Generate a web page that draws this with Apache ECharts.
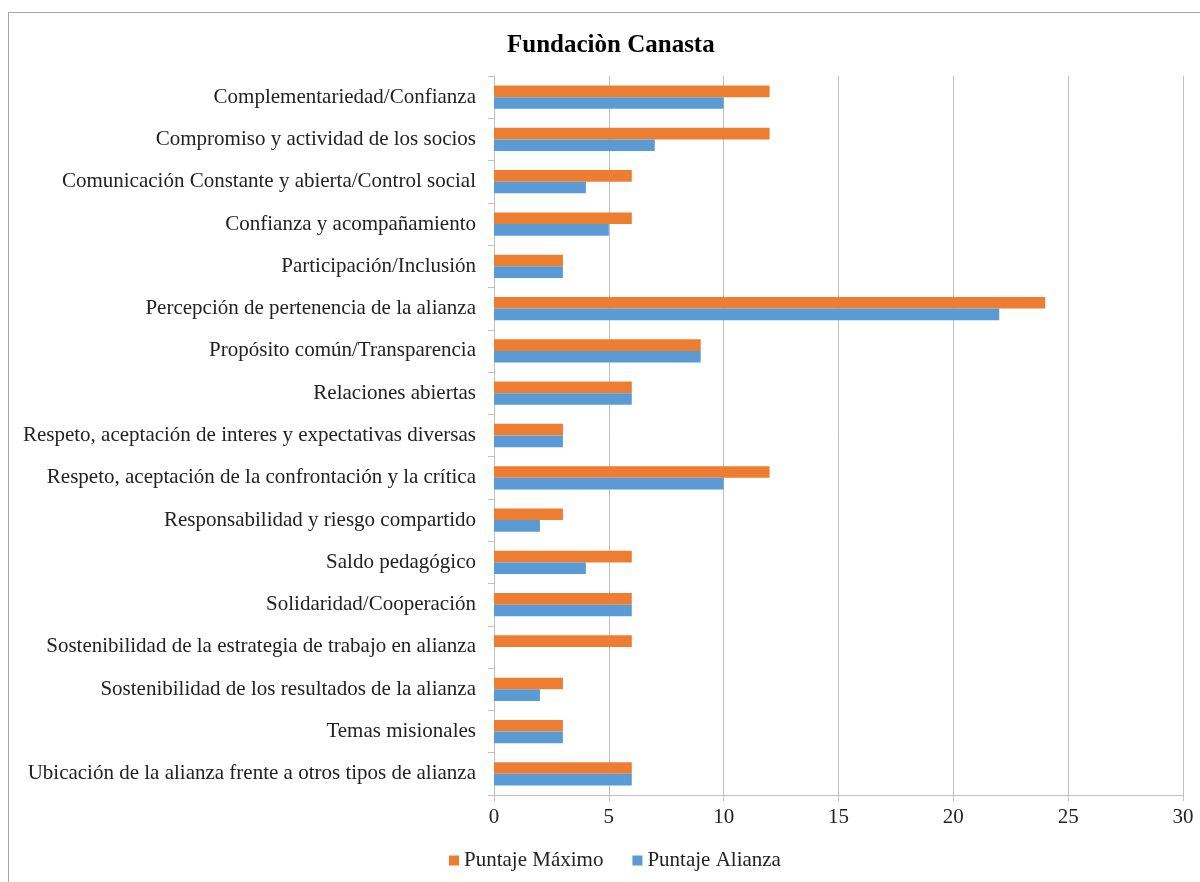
<!DOCTYPE html>
<html>
<head>
<meta charset="utf-8">
<script src="https://cdn.jsdelivr.net/npm/echarts@6/dist/echarts.min.js"></script>
<style>html,body{margin:0;padding:0;background:#fff}#c{width:1200px;height:882px}</style>
</head>
<body>
<div id="c"></div>
<script>
const categories = [
  "Complementariedad/Confianza",
  "Compromiso y actividad de los socios",
  "Comunicación Constante y abierta/Control social",
  "Confianza y acompañamiento",
  "Participación/Inclusión",
  "Percepción de pertenencia de la alianza",
  "Propósito común/Transparencia",
  "Relaciones abiertas",
  "Respeto, aceptación de interes y expectativas diversas",
  "Respeto, aceptación de la confrontación y la crítica",
  "Responsabilidad y riesgo compartido",
  "Saldo pedagógico",
  "Solidaridad/Cooperación",
  "Sostenibilidad de la estrategia de trabajo en alianza",
  "Sostenibilidad de los resultados de la alianza",
  "Temas misionales",
  "Ubicación de la alianza frente a otros tipos de alianza"
];
const puntajeMaximo = [12, 12, 6, 6, 3, 24, 9, 6, 3, 12, 3, 6, 6, 6, 3, 3, 6];
const puntajeAlianza = [10, 7, 4, 5, 3, 22, 9, 6, 3, 10, 2, 4, 6, 0, 2, 3, 6];
const xTicks = [0, 5, 10, 15, 20, 25, 30];

const FONT = '"Liberation Serif", "Times New Roman", serif';
const chart = echarts.init(document.getElementById('c'));
chart.setOption({
  backgroundColor: '#fff',
  animation: false,
  title: {
    text: 'Fundaciòn Canasta',
    left: 502,
    top: 28,
    textStyle: { fontFamily: FONT, fontWeight: 'bold', fontSize: 25, color: '#000' }
  },
  legend: {
    bottom: 6,
    left: 444,
    itemWidth: 10,
    itemHeight: 10,
    itemGap: 29,
    icon: 'rect',
    textStyle: { fontFamily: FONT, fontSize: 21, color: '#222' },
    data: ['Puntaje Máximo', 'Puntaje Alianza']
  },
  grid: { left: 494, right: 17, top: 76, bottom: 87 },
  xAxis: {
    type: 'value',
    min: xTicks[0],
    max: xTicks[xTicks.length - 1],
    interval: 5,
    axisLine: { show: true, lineStyle: { color: '#bfbfbf', width: 1 } },
    axisTick: { show: true, length: 6, lineStyle: { color: '#bfbfbf' } },
    axisLabel: { fontFamily: FONT, fontSize: 21, color: '#222', margin: 12 },
    splitLine: { show: true, lineStyle: { color: '#c0c0c0', width: 1 } }
  },
  yAxis: {
    type: 'category',
    inverse: true,
    data: categories,
    axisLine: { show: true, lineStyle: { color: '#bfbfbf', width: 1 } },
    axisTick: { show: true, length: 6, lineStyle: { color: '#bfbfbf' } },
    axisLabel: { fontFamily: FONT, fontSize: 21, color: '#222', margin: 18 }
  },
  series: [
    {
      name: 'Puntaje Máximo', type: 'bar', data: puntajeMaximo,
      itemStyle: { color: '#ED7D31' }, barGap: '0%', barCategoryGap: '45%'
    },
    {
      name: 'Puntaje Alianza', type: 'bar', data: puntajeAlianza,
      itemStyle: { color: '#5B9BD5' }, barGap: '0%', barCategoryGap: '45%'
    }
  ],
  graphic: [
    { type: 'line', shape: { x1: 8, y1: 12.5, x2: 1200, y2: 12.5 }, style: { stroke: '#a6a6a6', lineWidth: 1 } },
    { type: 'line', shape: { x1: 8.5, y1: 12, x2: 8.5, y2: 882 }, style: { stroke: '#a6a6a6', lineWidth: 1 } }
  ]
});
</script>
</body>
</html>
